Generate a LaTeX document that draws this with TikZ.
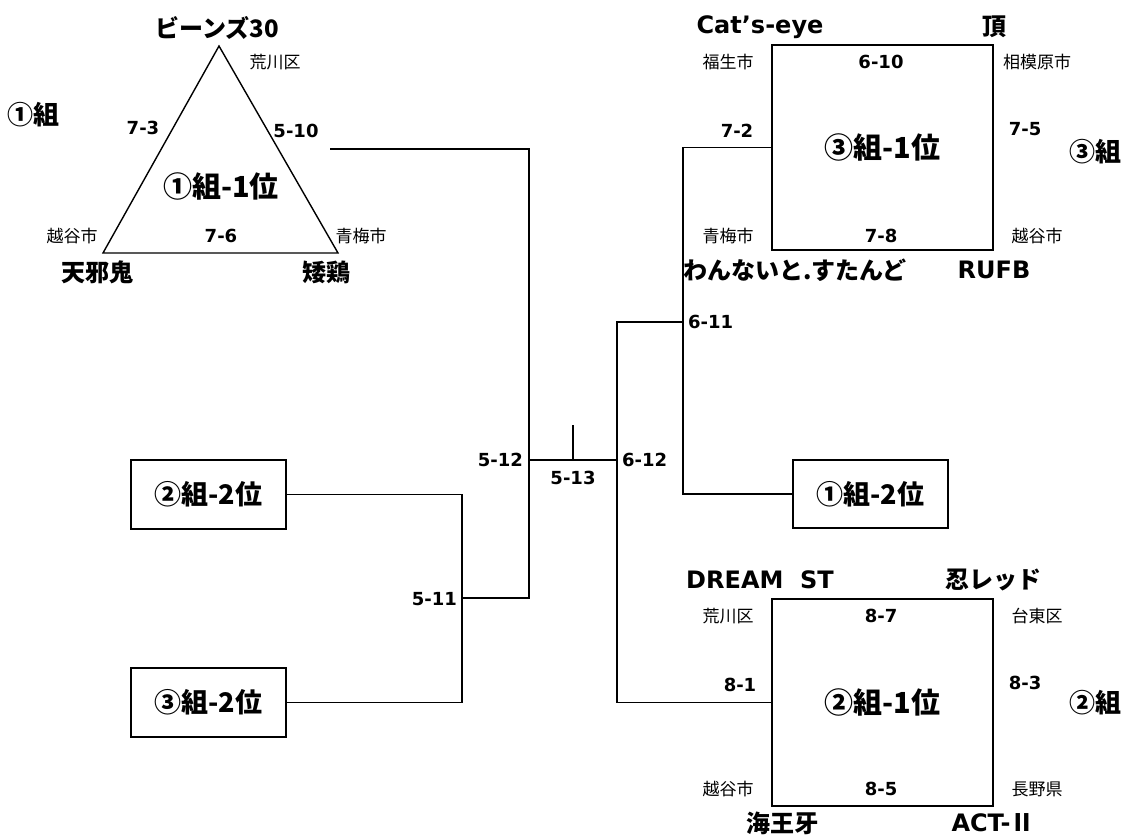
\documentclass[tikz,border=0pt]{standalone}
\usepackage{fontspec}
\setmainfont{DejaVu Sans}
\newfontfamily\cjk{Noto Sans CJK JP}
\begin{document}
\begin{tikzpicture}[x=1pt,y=-1pt,
  ln/.style={line width=1.9pt},
  box/.style={draw,line width=1.9pt,inner sep=0pt,outer sep=0pt},
  team/.style={font=\cjk\bfseries\fontsize{24}{26}\selectfont,inner sep=0pt},
  teamL/.style={font=\bfseries\fontsize{24}{26}\selectfont,inner sep=0pt},
  city/.style={font=\cjk\fontsize{17}{19}\selectfont,inner sep=0pt},
  score/.style={font=\bfseries\fontsize{18}{20}\selectfont,inner sep=0pt},
  bigtext/.style={font=\cjk\bfseries\fontsize{29}{31}\selectfont},
  boxtext/.style={font=\cjk\bfseries\fontsize{27}{29}\selectfont},
  grp/.style={font=\cjk\bfseries\fontsize{26}{28}\selectfont,inner sep=0pt}]
\useasboundingbox (0,0) rectangle (1121,836);
% ---- group 1 triangle
\coordinate (ta) at (219,46);
\coordinate (tl) at (103,253);
\coordinate (tr) at (338,253);
\draw[line width=1.4pt,line join=miter] (ta) -- (tl) -- (tr) -- cycle;
\node[team] (n_beans) at (217,28) {ビーンズ30};
\node[city] (c_ara1) at (275,62) {荒川区};
\node[grp] (g1lbl) at (33,115) {①組};
\node[score] (s73) at (143,128) {7-3};
\node[score] (s510) at (296,131) {5-10};
\node[bigtext,inner sep=0pt] (g1first) at (221,186) {①組-1位};
\node[city] (c_kos1) at (72,236) {越谷市};
\node[score] (s76) at (221,236) {7-6};
\node[city] (c_ome1) at (361,236) {青梅市};
\node[team] (n_ama) at (97,272) {天邪鬼};
\node[team] (n_cha) at (326,272) {矮鶏};
% ---- group 3 square
\node[box,bigtext,minimum width=221pt,minimum height=205pt] (sq3) at (882.5,147.5) {③組-1位};
\node[teamL] (n_cat) at (760,27) {Cat’s-eye};
\node[team] (n_ita) at (994,27) {頂};
\node[city] (c_fus) at (728,62) {福生市};
\node[score] (s610) at (881,62) {6-10};
\node[city] (c_sag) at (1037,62) {相模原市};
\node[score] (s72) at (737,131) {7-2};
\node[score] (s75) at (1025,129) {7-5};
\node[grp] (g3lbl) at (1095,152) {③組};
\node[city] (c_ome3) at (728,236) {青梅市};
\node[score] (s78) at (881,236) {7-8};
\node[city] (c_kos3) at (1037,236) {越谷市};
\node[team] (n_wan) at (795,270) {わんないと.すたんど};
\node[teamL] (n_rufb) at (994,270) {RUFB};
% ---- group 2 square
\node[box,bigtext,minimum width=221pt,minimum height=207pt] (sq2) at (882.5,702.5) {②組-1位};
\node[teamL,anchor=west] (n_dream) at (686,580) {DREAM\ \ ST};
\node[team] (n_shin) at (993,580) {忍レッド};
\node[city] (c_ara2) at (728,616) {荒川区};
\node[score] (s87) at (881,616) {8-7};
\node[city] (c_tai) at (1037,616) {台東区};
\node[score] (s81) at (740,685) {8-1};
\node[score] (s83) at (1025,683) {8-3};
\node[grp] (g2lbl) at (1095,703) {②組};
\node[city] (c_kos2) at (728,789) {越谷市};
\node[score] (s85) at (881,789) {8-5};
\node[city] (c_nag) at (1037,789) {長野県};
\node[team] (n_kai) at (782,823) {海王牙};
\node[teamL] (n_act) at (993,823) {ACT-{\cjk Ⅱ}};
% ---- second-place boxes
\node[box,boxtext,minimum width=155pt,minimum height=69pt] (g2second) at (208.5,494.5) {②組-2位};
\node[box,boxtext,minimum width=155pt,minimum height=69pt] (g3second) at (208.5,702.5) {③組-2位};
\node[box,boxtext,minimum width=155pt,minimum height=68pt] (g1second) at (870.5,494) {①組-2位};
% ---- bracket coordinates
\coordinate (c510) at (330,149);
\coordinate (j511) at (462,598);
\coordinate (j512) at (529,460);
\coordinate (j513) at (573,460);
\coordinate (tick) at (573,425);
\coordinate (j612) at (617,460);
\coordinate (j611) at (683,322);
% ---- connectors
\draw[ln] (g2second.east) -| (j511);
\draw[ln] (g3second.east) -| (j511);
\draw[ln] (j511) -| (j512);
\draw[ln] (c510) -| (j512);
\draw[ln] (j512) -- (j612);
\draw[ln] (j513) -- (tick);
\draw[ln] (j611) -| (j612);
\draw[ln] (j612) |- (sq2.west);
\draw[ln] (sq3.west) -| (j611);
\draw[ln] (j611) |- (g1second.west);
% ---- bracket labels
\node[score,anchor=east] (s511) at (457,599) {5-11};
\node[score,anchor=east] (s512) at (523,460) {5-12};
\node[score] (s513) at (573,478) {5-13};
\node[score,anchor=west] (s612) at (622,460) {6-12};
\node[score,anchor=west] (s611) at (688,322) {6-11};
\end{tikzpicture}
\end{document}
